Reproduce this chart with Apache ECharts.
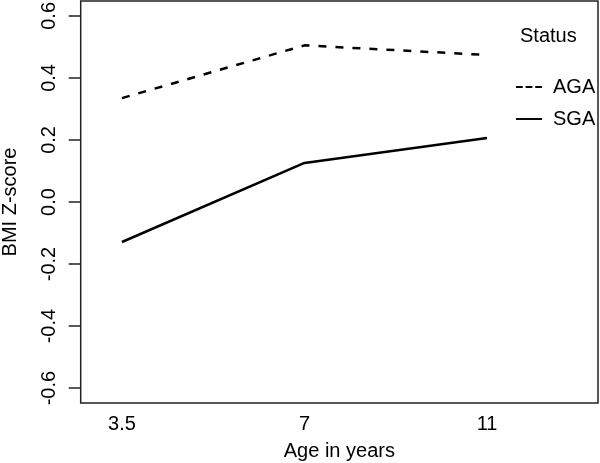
<!DOCTYPE html>
<html>
<head>
<meta charset="utf-8">
<script src="https://cdn.jsdelivr.net/npm/echarts@6/dist/echarts.min.js"></script>
<style>html,body{margin:0;padding:0;background:#fff}#c{width:600px;height:463px}</style>
</head>
<body>
<div id="c"></div>
<script>
var ageLabels = ['3.5', '7', '11'];
var agaValues = [0.335, 0.505, 0.474];
var sgaValues = [-0.129, 0.126, 0.206];
var yTicks = [-0.6, -0.4, -0.2, 0.0, 0.2, 0.4, 0.6];
var seriesNames = ['AGA', 'SGA'];

var FONT = 'Liberation Sans, Arial, sans-serif';
var FS = 20;
function pts(vals) { return vals.map(function (v, i) { return [i, v]; }); }

var chart = echarts.init(document.getElementById('c'), null, { renderer: 'canvas' });
chart.setOption({
  backgroundColor: '#fff',
  animation: false,
  title: {
    text: 'Status', left: 515, top: 21,
    textStyle: { fontFamily: FONT, fontSize: FS, fontWeight: 'normal', color: '#000' }
  },
  legend: {
    data: [
      { name: seriesNames[0], icon: 'path://M0,0h7v2h-7z M10,0h7v2h-7z M20,0h7v2h-7z' },
      { name: seriesNames[1], icon: 'path://M0,0h27v2h-27z' }
    ],
    orient: 'vertical', left: 511, top: 72,
    itemWidth: 26, itemHeight: 2, itemGap: 12,
    itemStyle: { color: '#000' },
    textStyle: { fontFamily: FONT, fontSize: FS, color: '#000', padding: [0, 0, 0, 6] }
  },
  grid: { left: 80.7, right: 2, top: 1, bottom: 60, show: true, borderColor: '#222', borderWidth: 1.5,
          outerBoundsMode: 'none', containLabel: false },
  xAxis: {
    type: 'value', min: -0.226, max: 2.608,
    axisLine: { show: false, onZero: false }, splitLine: { show: false },
    axisTick: { show: false },
    axisLabel: {
      customValues: [0, 1, 2], margin: 11,
      formatter: function (v) { return ageLabels[Math.round(v)]; },
      fontFamily: FONT, fontSize: FS, color: '#000'
    },
    name: 'Age in years', nameLocation: 'middle', nameGap: 38,
    nameTextStyle: { fontFamily: FONT, fontSize: FS, color: '#000' }
  },
  yAxis: {
    type: 'value', min: -0.648, max: 0.648,
    axisLine: { show: false, onZero: false }, splitLine: { show: false },
    axisTick: { show: true, customValues: yTicks, length: 12, lineStyle: { color: '#222', width: 1.5 } },
    axisLabel: {
      customValues: yTicks, rotate: 90, margin: 21,
      formatter: function (v) { return v.toFixed(1); },
      fontFamily: FONT, fontSize: FS, color: '#000'
    },
    name: 'BMI Z-score', nameLocation: 'middle', nameGap: 60, nameRotate: 90,
    nameTextStyle: { fontFamily: FONT, fontSize: FS, color: '#000' }
  },
  series: [
    { name: seriesNames[0], type: 'line', data: pts(agaValues), symbol: 'none', color: '#000',
      lineStyle: { color: '#000', width: 2.5, type: [8, 9] } },
    { name: seriesNames[1], type: 'line', data: pts(sgaValues), symbol: 'none', color: '#000',
      lineStyle: { color: '#000', width: 2.5, type: 'solid' } }
  ]
});
</script>
</body>
</html>
